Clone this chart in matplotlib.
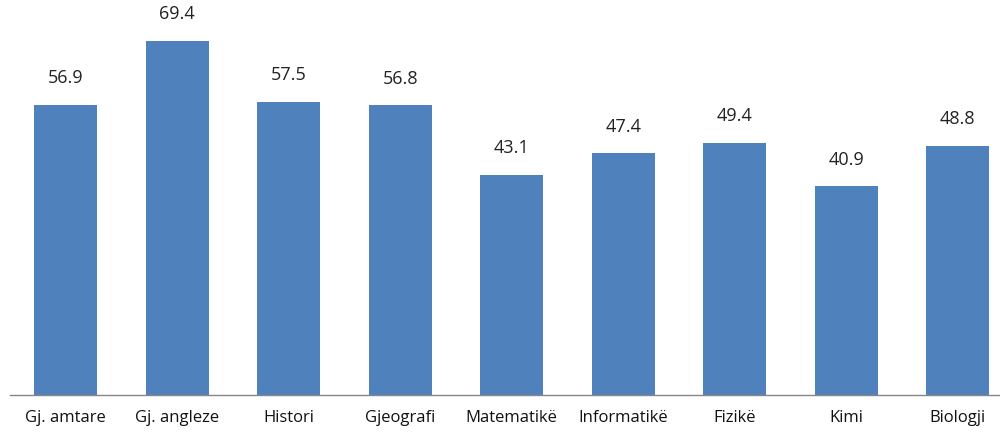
import matplotlib.pyplot as plt
import numpy as np

# Data
subjects = ['Gj. amtare', 'Gj. angleze', 'Histori', 'Gjeografi', 'Matematikë',
            'Informatikë', 'Fizikë', 'Kimi', 'Biologji']
scores = [56.9, 69.4, 57.5, 56.8, 43.1, 47.4, 49.4, 40.9, 48.8]

plt.rcParams['font.family'] = ['Open Sans', 'DejaVu Sans']

fig = plt.figure(figsize=(10, 4.33), dpi=100)
# axes stretch a little past the right edge, like the original
ax = fig.add_axes([0.01, 0.0878, 1.0035, 0.883])

x = np.arange(len(subjects))
ax.bar(x, scores, width=0.565, color='#4F81BD')

for xi, v in zip(x, scores):
    ax.text(xi, v + 3.5, f'{v:.1f}', ha='center', va='bottom',
            fontsize=13, color='#222222')

ax.set_xlim(-0.5, len(subjects) - 0.5)
ax.set_ylim(0, 75)
ax.set_xticks(x)
ax.set_xticklabels(subjects, fontsize=12, color='#111111')
ax.tick_params(axis='x', length=0, pad=11)
ax.set_yticks([])

for side in ['top', 'right', 'left']:
    ax.spines[side].set_visible(False)
ax.spines['bottom'].set_color('#868686')
ax.spines['bottom'].set_linewidth(1.0)

fig.savefig('out.png', dpi=100)
